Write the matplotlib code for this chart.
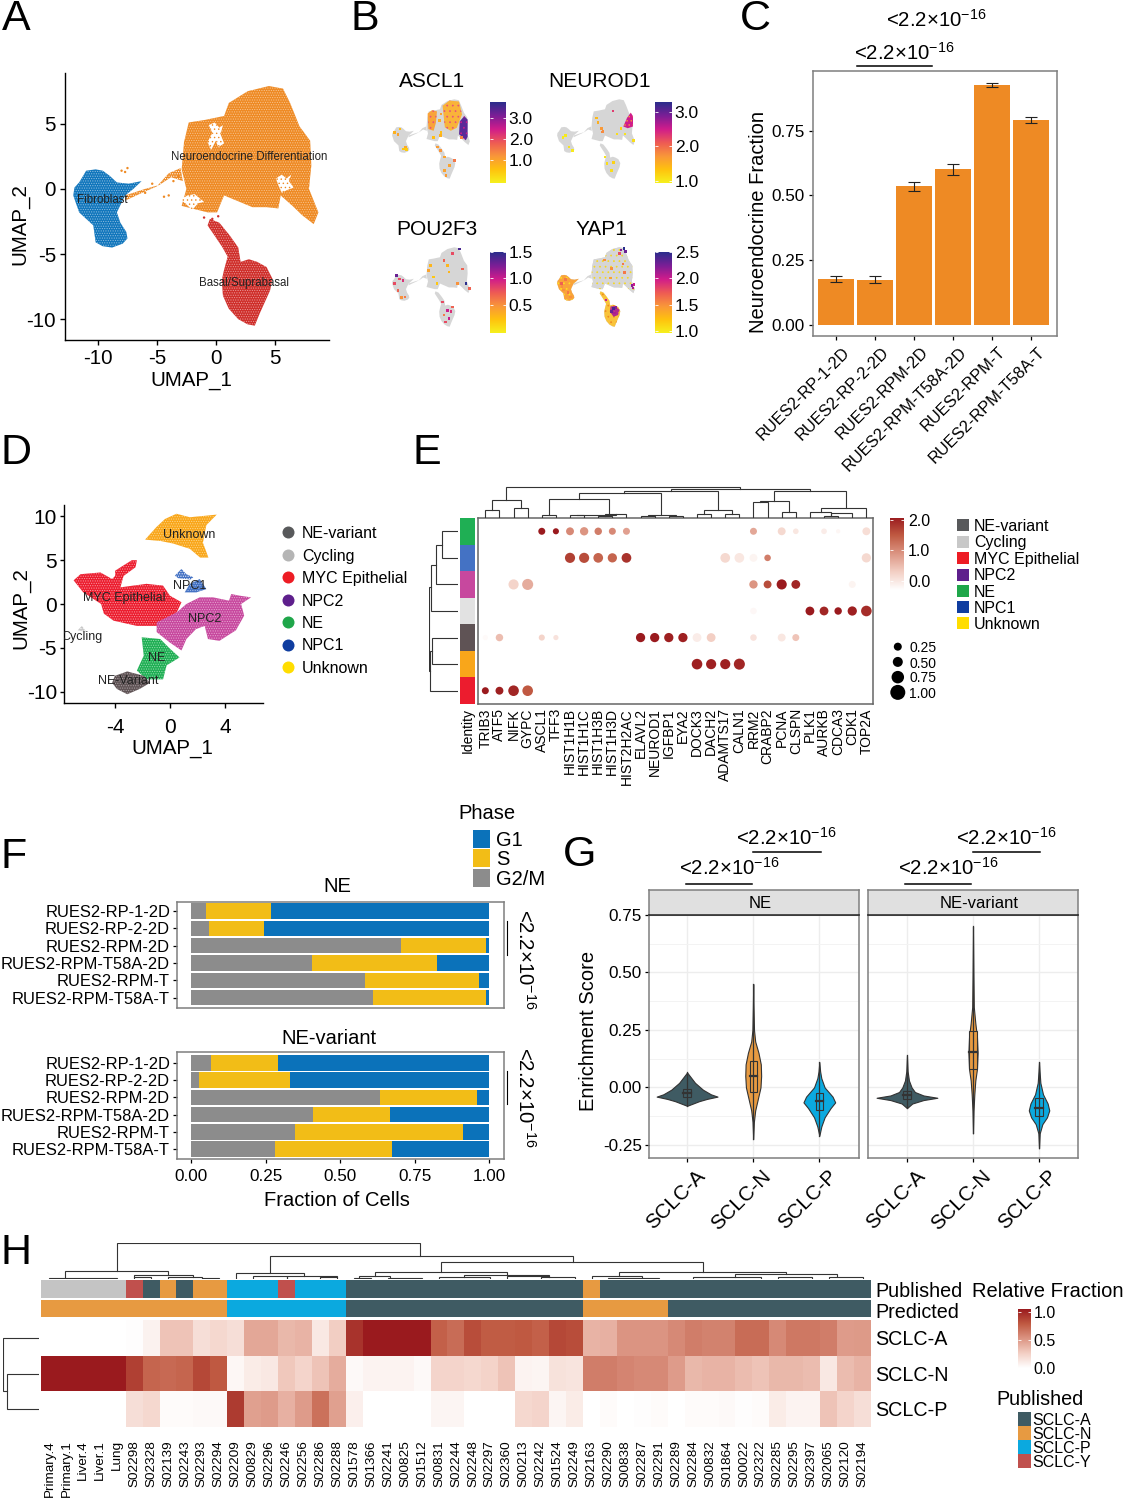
import numpy as np
import matplotlib
matplotlib.use("Agg")
import matplotlib.pyplot as plt
from matplotlib.colors import LinearSegmentedColormap, ListedColormap
from matplotlib.patches import Rectangle
from matplotlib.transforms import ScaledTranslation

plt.rcParams['font.family'] = ['Liberation Sans', 'DejaVu Sans']
plt.rcParams['mathtext.fontset'] = 'custom'
plt.rcParams['mathtext.rm'] = 'Liberation Sans'
plt.rcParams['mathtext.default'] = 'regular'
plt.rcParams['axes.unicode_minus'] = False
plt.rcParams['hatch.linewidth'] = 0.5

W, H = 1123, 1500
PVAL = "<2.2×10$^{-16}$"

# --- panel A / B clusters, outlines in UMAP units
ORANGE_X = [4.5, 5.7, 6.3, 7.1, 8.0, 8.1, 7.9, 8.7, 8.3, 7.3, 6.5, 5.5, 5.3, 4.3, 3.1, 1.5, 0.7, 0.1, -0.7, -2.9,
            -2.5, -2.9, -2.7, -2.3, -0.9, 0.7, 1.1, 2.7]
ORANGE_Y = [7.9, 7.7, 6.6, 4.8, 3.7, 1.8, 0.0, -1.8, -2.7, -2.0, -1.3, -0.5, -1.5, -1.4, -1.4, -0.8, -0.5, -1.8, -1.8,
            -1.3, 0.0, 1.5, 3.6, 5.1, 5.3, 5.6, 6.6, 7.5]
BRIDGE_X = [-3.0, -4.0, -5.0, -6.5, -7.7, -7.7, -6.0, -4.8, -3.8, -2.8]
BRIDGE_Y = [1.6, 1.2, 0.2, -0.4, -0.9, -0.5, 0.0, 0.3, 0.9, 0.6]
BLUE_X = [-11.0, -10.2, -9.6, -9.0, -8.4, -7.4, -6.3, -7.0, -7.7, -8.4, -8.1, -7.6, -7.5, -7.9, -8.8, -9.6, -10.2,
          -10.4, -11.0, -11.6, -12.1, -12.0, -11.6]
BLUE_Y = [1.4, 1.5, 1.4, 1.0, 0.5, 0.4, 0.6, 0.0, -0.5, -1.8, -2.6, -3.3, -3.8, -4.2, -4.5, -4.4, -4.1, -2.8, -2.3,
          -1.8, -0.5, 0.1, 0.5]
RED_X = [-0.5, 0.3, 1.2, 1.9, 2.1, 2.8, 3.5, 4.3, 4.8, 4.6, 4.2, 3.7, 3.3, 2.7, 1.9, 1.1, 0.6, 0.5, 0.7, 1.0, 0.5, -0.7]
RED_Y = [-2.3, -2.6, -3.6, -4.5, -5.6, -5.4, -5.6, -6.0, -6.9, -7.8, -8.6, -9.6, -10.5, -10.4, -10.0, -9.2, -8.2,
         -7.0, -6.2, -5.2, -4.4, -2.8]
HOLE1_X = [-0.6, -0.1, 0.3, 0.6, 0.4, 0.7, 0.2, 0.0, -0.4, -0.7, -0.3]
HOLE1_Y = [4.9, 5.1, 4.7, 4.9, 4.2, 3.5, 3.2, 3.7, 3.0, 3.6, 4.3]
HOLE2_X = [5.1, 5.6, 6.0, 6.4, 6.2, 6.6, 6.0, 5.6, 5.3]
HOLE2_Y = [0.8, 1.1, 0.8, 1.1, 0.6, 0.1, -0.1, -0.3, 0.3]
HOLE3_X = [-3.0, -2.4, -1.8, -1.0, -1.5, -2.0]
HOLE3_Y = [-0.8, -0.5, -0.4, -1.0, -1.1, -1.6]
STRAY_X = [-8.0, -7.7, -7.5, -6.0, -5.4, -4.4, -4.0, -3.6, -3.2, -1.0, -0.3, 0.2]
STRAY_Y = [1.4, 1.3, 1.6, -0.3, 0.4, -0.6, -0.5, 0.6, 1.0, -2.2, -2.3, -2.1]
STRAY_COLOR = ['#EE8A24'] * 3 + ['#EE8A24'] * 6 + ['#D0312D'] * 3

# --- panel B
COLORBAR_LIMS = {'ASCL1': (-0.1, 3.76), 'NEUROD1': (0.94, 3.29), 'POU2F3': (-0.03, 1.5), 'YAP1': (0.96, 2.5)}
COLORBAR_TICKS = {'ASCL1': [1.0, 2.0, 3.0], 'NEUROD1': [1.0, 2.0, 3.0], 'POU2F3': [0.5, 1.0, 1.5],
                  'YAP1': [1.0, 1.5, 2.0, 2.5]}
ASCL1_X = [-11.4, -10.0, -9.1, -8.2, -8.6, -10.5, 0.9, 1.85, 4.6, 3.2, 1.85, 2.3, 0.0, 0.9, 6.4, 1.0, -1.0, 0.6, 1.0]
ASCL1_Y = [0.2, 1.0, -3.6, -3.8, -3.2, -0.2, -4.0, -5.5, -6.3, -7.4, -8.6, -9.7, -3.2, -0.5, -1.0, 0.2, -0.9, 3.0, 4.5]
ASCL1_V = [0.8, 0.6, 0.5, 0.4, 0.9, 1.0, 1.2, 1.0, 1.5, 1.0, 1.0, 1.1, 1.1, 0.8, 1.4, 0.6, 0.6, 0.8, 1.0]
NEUROD1_X = [0.2, -0.3, -1.2, -1.6, -9.8, -8.9, -8.0, 0.67, 3.0, 2.5, 3.9, 6.1, 8.4, 2.9, 5.0, 0.0, -10.5, 1.2]
NEUROD1_Y = [0.6, 1.2, 2.5, 3.6, -0.5, -3.2, -4.0, -5.5, -6.7, -8.6, -0.15, -0.15, -1.7, 5.2, 1.2, 0.3, -0.9, -7.0]
NEUROD1_V = [1.8, 1.7, 1.5, 1.4, 1.0, 1.05, 1.0, 1.05, 1.2, 1.1, 1.1, 1.05, 1.1, 2.3, 1.2, 1.8, 1.0, 1.1]
POU2F3_X = [-11.0, -10.1, -9.2, -10.5, -8.7, -9.6, -11.5, -1.9, -2.3, -0.1, 1.8, 4.0, 5.9, 2.7, 6.8, 5.4, 7.7, 8.6,
            3.1, -1.0, 1.3, 2.7, 3.6, 1.8, 3.1, 2.2, 4.0]
POU2F3_Y = [1.4, 0.6, 0.2, -2.1, -3.6, -3.8, -0.5, 3.7, 2.5, -0.5, 4.8, 6.4, 7.5, 3.7, 2.9, -0.5, -0.5, -1.7, 2.15,
            1.0, -4.8, -6.7, -7.0, -7.8, -8.6, -9.4, -5.9]
POU2F3_V = [1.3, 0.8, 0.9, 0.7, 0.6, 0.5, 0.8, 0.3, 0.4, 0.2, 0.7, 0.8, 1.4, 0.3, 0.7, 0.5, 1.5, 0.7, 0.3, 0.2, 0.8,
            1.0, 0.9, 0.6, 1.0, 0.8, 0.7]
YAP1_X = [5.8, 5.0, 6.2, 4.6, 7.9, 8.2, 8.5, 3.0, 3.7, 2.5, 3.3, 1.0, 2.5, 6.0, 0.6, -9.8, -11.0, -10.8, -9.2,
          -10.4, -8.5, 5.5, 2.2]
YAP1_Y = [7.6, 7.3, 6.9, 6.5, -1.0, -1.5, -0.7, -6.3, -6.0, -7.0, -7.3, -4.3, 3.0, 2.0, 5.0, 0.5, -0.5, -1.2, -2.6,
          -2.0, -3.6, 4.0, 0.8]
YAP1_V = [2.5, 2.2, 2.3, 1.8, 2.2, 2.1, 2.0, 2.4, 2.2, 2.3, 2.1, 2.0, 1.5, 1.6, 1.5, 1.6, 1.7, 1.5, 1.6, 1.5, 1.5,
          1.6, 1.4]
ASCL1_LEFT_X = [-2.6, -1.4, -0.1, -0.4, -1.0, -2.4]
ASCL1_LEFT_Y = [4.6, 5.4, 5.1, 2.4, 0.6, 1.0]
ASCL1_MID_X = [1.4, 3.2, 5.8, 6.6, 5.2, 3.6, 2.0]
ASCL1_MID_Y = [6.4, 7.6, 7.4, 4.4, 1.3, 0.6, 1.4]
ASCL1_HOT_X = [6.0, 7.2, 8.1, 8.1, 7.6, 5.8]
ASCL1_HOT_Y = [2.8, 4.0, 3.2, -0.8, -1.6, -0.2]
NEUROD1_HOT_X = [6.6, 7.6, 8.2, 8.2, 6.8, 5.6]
NEUROD1_HOT_Y = [3.6, 4.8, 4.0, 1.6, 1.2, 1.6]
YAP1_HOT_X = [2.2, 3.5, 4.6, 4.2, 3.0, 2.0]
YAP1_HOT_Y = [-5.8, -5.7, -6.6, -7.8, -8.2, -7.0]

# --- panel C
LINES = ['RUES2-RP-1-2D', 'RUES2-RP-2-2D', 'RUES2-RPM-2D', 'RUES2-RPM-T58A-2D', 'RUES2-RPM-T', 'RUES2-RPM-T58A-T']
NE_FRACTION = [0.178, 0.175, 0.535, 0.60, 0.925, 0.79]
NE_ERR = [0.012, 0.012, 0.018, 0.022, 0.008, 0.011]

# --- panel D clusters
UNKNOWN_X = [-1.8, -1.0, -0.36, 0.48, 1.45, 3.4, 2.65, 2.4, 2.8, 2.2, 1.45, 0.24, -0.7]
UNKNOWN_Y = [7.35, 8.75, 9.7, 10.3, 9.9, 10.2, 9.0, 7.0, 5.3, 5.3, 6.3, 6.9, 7.2]
MYC_X = [-7.0, -6.5, -5.05, -4.2, -3.98, -3.98, -2.77, -2.4, -2.5, -3.37, -3.6, -1.7, -0.5, 0.0, 0.84, 0.5, -0.96,
         -2.4, -4.1, -4.8, -5.0, -6.3]
MYC_Y = [2.7, 3.4, 3.6, 2.85, 3.2, 3.8, 5.0, 5.0, 4.2, 3.2, 1.9, 2.3, 2.1, 0.95, 0.2, -0.95, -2.5, -2.5, -1.9, -1.1,
         0.0, 1.33]
NPC2_X = [-0.96, 0.5, 1.2, 2.17, 3.13, 4.3, 4.46, 5.06, 5.9, 5.18, 5.4, 4.8, 3.6, 2.77, 2.53, 1.9, 1.2, 0.84, 0.0,
          -0.96]
NPC2_Y = [-2.1, -0.95, 0.0, 0.76, 0.76, 0.38, 1.14, 0.95, 0.76, 0.0, -1.33, -3.0, -4.2, -4.0, -2.5, -2.86, -4.0, -5.3,
          -4.4, -3.2]
NE_X = [-2.05, -0.7, 0.0, 0.7, -0.24, -0.5, -1.7, -2.4, -1.9]
NE_Y = [-3.8, -4.0, -5.1, -6.1, -7.0, -8.6, -8.6, -7.6, -5.9]
NEV_X = [-4.0, -3.1, -1.9, -1.45, -2.2, -3.1, -3.85, -4.2]
NEV_Y = [-8.2, -7.7, -8.2, -9.0, -9.7, -10.3, -9.7, -9.0]
NPC1A_X = [1.08, 1.45, 2.17, 2.65, 1.93]
NPC1A_Y = [1.33, 2.3, 2.85, 1.7, 1.33]
NPC1B_X = [0.36, 0.84, 1.2, 1.7, 1.5, 0.6]
NPC1B_Y = [3.24, 4.0, 3.4, 3.05, 2.8, 2.95]
CYCLING_X = [-6.7, -6.4, -6.07]
CYCLING_Y = [-3.0, -2.5, -3.2]
D_LEGEND = ['NE-variant', 'Cycling', 'MYC Epithelial', 'NPC2', 'NE', 'NPC1', 'Unknown']
D_COLORS = ['#58595B', '#B5B5B5', '#ED1C24', '#5E1F8C', '#1FA64A', '#0F3DA0', '#FFDD00']
E_LEGEND_COLORS = ['#58595B', '#C8C8C8', '#ED1C24', '#5E1F8C', '#1FA64A', '#0F3DA0', '#FFDD00']

# --- panel E
GENES = ['TRIB3', 'ATF5', 'NIFK', 'GYPC', 'ASCL1', 'TFF3', 'HIST1H1B', 'HIST1H1C', 'HIST1H3B', 'HIST1H3D',
         'HIST2H2AC', 'ELAVL2', 'NEUROD1', 'IGFBP1', 'EYA2', 'DOCK3', 'DACH2', 'ADAMTS17', 'CALN1', 'RRM2', 'CRABP2',
         'PCNA', 'CLSPN', 'PLK1', 'AURKB', 'CDCA3', 'CDK1', 'TOP2A']
IDENTITY_COLORS = ['#1FAF54', '#4472C4', '#C7489E', '#E2E2E2', '#5F5355', '#F9A61A', '#EC1C2E']
DOT_ROW = [0] * 13 + [1] * 10 + [2] * 7 + [3] * 6 + [4] * 13 + [5] * 4 + [6] * 4
DOT_GENE = [4, 5, 6, 7, 8, 9, 10, 19, 21, 22, 24, 25, 27,
            6, 7, 8, 9, 10, 17, 18, 19, 20, 27,
            2, 3, 19, 20, 21, 22, 26,
            19, 23, 24, 25, 26, 27,
            0, 1, 4, 5, 11, 12, 13, 14, 15, 16, 19, 21, 22,
            15, 16, 17, 18,
            0, 1, 2, 3]
DOT_SIZE = [0.5, 0.4, 0.6, 0.65, 0.55, 0.5, 0.5, 0.5, 0.6, 0.35, 0.35, 0.2, 0.6,
            0.85, 0.85, 0.8, 0.75, 0.8, 0.8, 0.8, 0.6, 0.45, 0.75,
            0.85, 0.95, 0.65, 0.6, 0.85, 0.7, 0.5,
            0.45, 0.7, 0.7, 0.55, 0.75, 0.9,
            0.3, 0.55, 0.4, 0.3, 0.75, 0.75, 0.75, 0.75, 0.7, 0.7, 0.45, 0.6, 0.5,
            0.9, 0.85, 0.85, 0.95,
            0.5, 0.6, 0.9, 0.9]
DOT_VALUE = [2.0, 2.0, 1.1, 1.0, 1.2, 1.1, 0.9, 0.85, 0.4, 0.25, 0.2, 0.1, 0.35,
             1.7, 1.6, 1.4, 1.4, 1.8, 0.4, 0.25, 0.12, 1.2, 0.4,
             0.45, 0.8, 1.0, 1.6, 2.0, 1.9, 0.12,
             0.08, 2.0, 1.9, 2.0, 1.95, 1.85,
             0.05, 0.65, 0.45, 0.3, 2.0, 2.0, 1.95, 1.95, 0.2, 0.5, 0.3, 0.25, 0.6,
             1.95, 1.95, 1.95, 1.9,
             2.0, 1.95, 1.9, 1.5]
# xl, xr, height left, height right, height top
GENE_TREE = [(0, 1, 0, 0, 23), (2, 3, 0, 0, 27), (0.5, 2.5, 23, 27, 52), (1.49, 18.07, 52, 85, 92),
             (4, 5, 0, 0, 8), (6, 7, 0, 0, 6), (8, 9, 0, 0, 5), (8.5, 10, 5, 0, 10), (6.5, 9.25, 6, 10, 8),
             (4.49, 8.74, 8, 8, 54), (11, 12, 0, 0, 3), (13, 14, 0, 0, 4), (11.5, 13.5, 3, 4, 6),
             (6.61, 12.47, 54, 6, 72), (15, 16, 0, 0, 10), (17, 18, 0, 0, 10), (15.47, 17.48, 10, 10, 23),
             (9.85, 16.49, 72, 23, 79), (13.18, 22.99, 79, 79, 85), (19, 20, 0, 0, 45), (21, 22, 0, 0, 17),
             (19.49, 21.5, 45, 17, 50), (23, 24.5, 0, 7, 17), (24, 25, 0, 0, 4), (24.5, 26, 4, 0, 14),
             (23.75, 27, 17, 0, 27), (20.48, 25.56, 50, 27, 79)]
ROW_TREE = [(0, 1, 0, 0, 50), (0.5, 2, 50, 0, 67), (1.25, 3, 67, 0, 83), (4, 5, 0, 0, 78), (4.5, 6, 78, 0, 85),
            (2.1, 5.25, 83, 85, 88)]
E_LEGEND = D_LEGEND
SIZE_LEGEND = [0.25, 0.50, 0.75, 1.00]

# --- panel F
PHASES = ['G1', 'S', 'G2/M']
PHASE_COLORS = ['#0B72BA', '#F2BD17', '#8C8C8C']
NE_G2M = [0.05, 0.06, 0.703, 0.405, 0.585, 0.61]
NE_S = [0.22, 0.185, 0.287, 0.42, 0.38, 0.38]
NE_G1 = [0.73, 0.755, 0.01, 0.175, 0.035, 0.01]
NEV_G2M = [0.067, 0.027, 0.635, 0.41, 0.35, 0.283]
NEV_S = [0.226, 0.305, 0.325, 0.257, 0.562, 0.392]
NEV_G1 = [0.707, 0.668, 0.04, 0.333, 0.088, 0.325]

# --- panel G, violin outlines: score, half width
SUBTYPES = ['SCLC-A', 'SCLC-N', 'SCLC-P']
SUBTYPE_COLORS = ['#3F5B63', '#E79A41', '#0BA9DF']
NE_A_Y = [-0.08, -0.06, -0.05, -0.04, -0.03, -0.01, 0.02, 0.05, 0.065]
NE_A_W = [0.0, 0.18, 0.3, 0.46, 0.36, 0.24, 0.12, 0.04, 0.0]
NE_N_Y = [-0.225, -0.15, -0.1, -0.05, 0.0, 0.05, 0.1, 0.15, 0.2, 0.25, 0.35, 0.45]
NE_N_W = [0.0, 0.01, 0.03, 0.07, 0.11, 0.12, 0.115, 0.08, 0.03, 0.012, 0.005, 0.0]
NE_P_Y = [-0.21, -0.17, -0.13, -0.09, -0.065, -0.04, 0.0, 0.04, 0.07, 0.11]
NE_P_W = [0.0, 0.03, 0.08, 0.17, 0.24, 0.2, 0.08, 0.03, 0.012, 0.0]
NEV_A_Y = [-0.09, -0.07, -0.055, -0.045, -0.035, -0.02, 0.0, 0.03, 0.07, 0.14]
NEV_A_W = [0.0, 0.08, 0.25, 0.46, 0.25, 0.12, 0.07, 0.03, 0.01, 0.0]
NEV_N_Y = [-0.2, -0.1, -0.03, 0.03, 0.08, 0.15, 0.22, 0.28, 0.35, 0.5, 0.7]
NEV_N_W = [0.0, 0.008, 0.02, 0.035, 0.06, 0.07, 0.06, 0.035, 0.012, 0.006, 0.0]
NEV_P_Y = [-0.265, -0.2, -0.16, -0.13, -0.1, -0.07, -0.03, 0.02, 0.07, 0.11]
NEV_P_W = [0.0, 0.01, 0.05, 0.12, 0.155, 0.13, 0.06, 0.02, 0.008, 0.0]
NE_Q1 = [-0.04, -0.02, -0.097]
NE_MED = [-0.025, 0.05, -0.06]
NE_Q3 = [-0.005, 0.115, -0.025]
NEV_Q1 = [-0.05, 0.08, -0.125]
NEV_MED = [-0.035, 0.155, -0.09]
NEV_Q3 = [-0.015, 0.245, -0.045]

# --- panel H
SAMPLES = ['Primary.4', 'Primary.1', 'Liver.4', 'Liver.1', 'Lung', 'S02298', 'S02328', 'S02139', 'S02243', 'S02293',
           'S02294', 'S02209', 'S00829', 'S02296', 'S02246', 'S02256', 'S02286', 'S02288', 'S01578', 'S01366',
           'S02241', 'S00825', 'S01512', 'S00831', 'S02244', 'S02248', 'S02297', 'S02360', 'S00213', 'S02242',
           'S01524', 'S02249', 'S02163', 'S02290', 'S00838', 'S02287', 'S02291', 'S02289', 'S02284', 'S00832',
           'S01864', 'S00022', 'S02322', 'S02285', 'S02295', 'S02397', 'S02065', 'S02120', 'S02194']
SCLC_A = [0, 0, 0, 0, 0, 0.01, 0.07, 0.3, 0.3, 0.17, 0.2, 0.17, 0.42, 0.42, 0.35, 0.37, 0.12, 0.25, 0.9, 1, 1, 1, 1,
          0.72, 0.67, 0.8, 0.74, 0.74, 0.75, 0.72, 0.82, 0.8, 0.37, 0.38, 0.5, 0.5, 0.5, 0.55, 0.6, 0.58, 0.58, 0.67,
          0.67, 0.55, 0.62, 0.62, 0.6, 0.47, 0.48]
SCLC_N = [1, 1, 1, 1, 1, 0.85, 0.7, 0.68, 0.7, 0.82, 0.75, 0.04, 0.1, 0.12, 0.28, 0.22, 0.3, 0.4, 0.03, 0.06, 0.06,
          0.06, 0.03, 0.22, 0.22, 0.2, 0.23, 0.3, 0.06, 0.05, 0.15, 0.14, 0.6, 0.6, 0.57, 0.55, 0.55, 0.47, 0.35,
          0.37, 0.37, 0.33, 0.3, 0.35, 0.35, 0.33, 0.12, 0.33, 0.37]
SCLC_P = [0, 0, 0, 0, 0, 0.17, 0.2, 0.02, 0.02, 0.03, 0.03, 0.87, 0.45, 0.47, 0.38, 0.47, 0.65, 0.45, 0.08, 0, 0, 0,
          0, 0.05, 0.05, 0, 0, 0, 0.2, 0.22, 0.05, 0.1, 0, 0.02, 0, 0.01, 0.02, 0, 0.02, 0.02, 0.03, 0.01, 0.02, 0.1,
          0.06, 0.06, 0.3, 0.22, 0.17]
HEAT_ROWS = ['SCLC-A', 'SCLC-N', 'SCLC-P']
# 0 = none, 1 A, 2 N, 3 P, 4 Y
PUBLISHED = [0] * 5 + [4, 1, 2, 1, 2, 2] + [3, 3, 3, 4, 3, 3, 3] + [1] * 14 + [2] + [1] * 16
PREDICTED = [2] * 11 + [3] * 7 + [1] * 14 + [2] * 5 + [1] * 12
ANNOT_COLORS = ['#C4C4C4', '#3F5B63', '#E79A41', '#0BA9DF', '#C0504D']
H_LEGEND = ['SCLC-A', 'SCLC-N', 'SCLC-P', 'SCLC-Y']
SAMPLE_TREE = [(3.96, 21.9, 25, 70, 107), (0.91, 6.97, 2, 12, 25), (0, 1.82, 0, 0, 2), (1.82, 4, 0, 0, 2),
               (5, 8.5, 5, 6, 12), (5, 6, 0, 0, 5), (7, 9, 3, 4, 6), (9, 10, 0, 0, 3),
               (13, 30.9, 19, 52, 70), (11, 15, 0, 8, 19), (12, 14, 0, 3, 8), (14, 17, 0, 5, 8), (16, 17, 0, 0, 5),
               (23.1, 38.6, 20, 22, 52), (19.2, 27, 8, 13, 20), (18.3, 20.1, 2, 3, 8), (18, 19, 0, 0, 2),
               (20, 22, 0, 0, 3), (24.5, 29.5, 5, 8, 13), (23, 26, 0, 3, 5), (27, 29.5, 2, 6, 8), (29, 31, 0, 3, 6),
               (33.6, 43.5, 8, 15, 22), (32, 35, 2, 3, 8), (33, 36, 0, 0, 3), (40.5, 46.5, 6, 10, 15),
               (38, 42, 0, 3, 6), (43, 45, 0, 2, 5), (46, 48, 2, 3, 6)]
SAMPLE_ROW_TREE = [(1, 2, 0, 0, 88), (0, 1.5, 0, 88, 100)]

# --- colormaps
gene_cmap = LinearSegmentedColormap.from_list('gene', ['#F6F01E', '#FFC20E', '#F9963A', '#EE5A55', '#D01C8B', '#7B1E96',
                                                        '#2B2D8C'])
red_cmap = LinearSegmentedColormap.from_list('heat', ['#FFFFFF', '#F3CFC4', '#DC9583', '#C05A42', '#9A1A1E'])

fig = plt.figure(figsize=(W / 100, H / 100), dpi=100, facecolor='white')


def add_ax(x0, y0, x1, y1, **kw):
    # axes from pixel box, y measured from the top of the image
    return fig.add_axes([x0 / W, 1 - y1 / H, (x1 - x0) / W, (y1 - y0) / H], **kw)


def classic(ax, labelsize=14.5):
    ax.spines[['top', 'right']].set_visible(False)
    ax.spines[['left', 'bottom']].set_linewidth(1.0)
    ax.tick_params(labelsize=labelsize, length=3.5, width=1.0, pad=3)


def grey_box(ax, color='#7F7F7F', lw=1.1):
    for s in ax.spines.values():
        s.set_color(color)
        s.set_linewidth(lw)


def place_labels(ax, box, xpos=None, ypos=None):
    # axis label centres, given in image pixels
    x0, y0, x1, y1 = box
    if xpos:
        ax.xaxis.set_label_coords((xpos[0] - x0) / (x1 - x0), (y1 - xpos[1]) / (y1 - y0))
        ax.xaxis.label.set_va('center')
    if ypos:
        ax.yaxis.set_label_coords((ypos[0] - x0) / (x1 - x0), (y1 - ypos[1]) / (y1 - y0))
        ax.yaxis.label.set_va('center')


def shift_xlabels(ax, px):
    offset = ScaledTranslation(px / 100, 0, fig.dpi_scale_trans)
    for lab in ax.get_xticklabels():
        lab.set_transform(lab.get_transform() + offset)


def draw_tree(ax, links, side='top', color='#333333', lw=0.8):
    for xl, xr, hl, hr, h in links:
        xs, ys = [xl, xl, xr, xr], [hl, h, h, hr]
        if side == 'top':
            ax.plot(xs, ys, color=color, lw=lw, solid_joinstyle='miter')
        else:
            ax.plot(ys, xs, color=color, lw=lw, solid_joinstyle='miter')


def gradient_bar(box, cmap, vmin, vmax, ticks, labels, size=12.5, pad=2):
    ax = add_ax(*box)
    grad = np.linspace(vmin, vmax, 256)[:, None]
    ax.imshow(grad, origin='lower', aspect='auto', cmap=cmap, extent=[0, 1, vmin, vmax], vmin=vmin, vmax=vmax)
    ax.hlines(ticks, 0, 0.2, color='white', lw=0.6)
    ax.hlines(ticks, 0.8, 1, color='white', lw=0.6)
    ax.set_xticks([])
    ax.yaxis.tick_right()
    ax.set_yticks(ticks, labels)
    ax.tick_params(length=0, labelsize=size, pad=pad)
    ax.spines[:].set_visible(False)
    return ax


# panel A
box_a = (65, 73, 329, 340)
ax = add_ax(*box_a)
ax.fill(ORANGE_X, ORANGE_Y, fc='#EE8A24', ec='#F8C48E', hatch='.......', lw=0)
ax.fill(BRIDGE_X, BRIDGE_Y, fc='#EE8A24', ec='white', hatch='.......', lw=0)
ax.fill(BLUE_X, BLUE_Y, fc='#1176BC', ec='#8DBDE0', hatch='.......', lw=0)
ax.fill(RED_X, RED_Y, fc='#CF2E2A', ec='#E99A98', hatch='.......', lw=0)
for hx, hy in [(HOLE1_X, HOLE1_Y), (HOLE2_X, HOLE2_Y), (HOLE3_X, HOLE3_Y)]:
    ax.fill(hx, hy, fc='white', ec='#EE8A24', hatch='....', lw=0)
ax.scatter(STRAY_X, STRAY_Y, s=3, c=STRAY_COLOR, lw=0)
ax.set_xlim(-12.8, 9.6)
ax.set_ylim(-11.6, 8.9)
ax.set_xticks([-10, -5, 0, 5])
ax.set_yticks([-10, -5, 0, 5])
classic(ax, 14.8)
ax.set_xlabel('UMAP_1', fontsize=14.8)
ax.set_ylabel('UMAP_2', fontsize=14.8)
place_labels(ax, box_a, (191, 381), (20, 224))
ax.text(2.8, 2.45, 'Neuroendocrine Differentiation', fontsize=8.3, ha='center', va='center', color='#222222')
ax.text(-9.6, -0.85, 'Fibroblast', fontsize=8.3, ha='center', va='center', color='#222222')
ax.text(2.4, -7.25, 'Basal/Suprabasal', fontsize=8.3, ha='center', va='center', color='#222222')


# panel B
def mini_map(box, title, px, py, pv, gene, title_x, patches=()):
    ax = add_ax(*box)
    for xs, ys in [(ORANGE_X, ORANGE_Y), (BRIDGE_X, BRIDGE_Y), (BLUE_X, BLUE_Y), (RED_X, RED_Y)]:
        ax.fill(xs, ys, fc='#D6D6D6', lw=0)
    for xs, ys, fc, ec, hatch in patches:
        ax.fill(xs, ys, fc=fc, ec=ec, hatch=hatch, lw=0)
    vmin, vmax = COLORBAR_LIMS[gene]
    ax.scatter(px, py, c=pv, s=3.5, marker='s', cmap=gene_cmap, vmin=vmin, vmax=vmax, lw=0)
    ax.set_xlim(-12.4, 9)
    ax.set_ylim(-10.8, 8.2)
    ax.axis('off')
    fig.text(title_x / W, 1 - box[1] / H + 16.5 / H, title, fontsize=15, ha='center', va='center')


mini_map((391, 98, 471, 180), 'ASCL1', ASCL1_X, ASCL1_Y, ASCL1_V, 'ASCL1', 432,
         [(ASCL1_LEFT_X, ASCL1_LEFT_Y, '#F9A33A', '#E8507A', '...'), (ASCL1_MID_X, ASCL1_MID_Y, '#F9B33A', '#E8507A', '...'),
          (ASCL1_HOT_X, ASCL1_HOT_Y, '#5A2A98', '#D01C8B', '...')])
mini_map((556, 98, 636, 180), 'NEUROD1', NEUROD1_X, NEUROD1_Y, NEUROD1_V, 'NEUROD1', 600,
         [(NEUROD1_HOT_X, NEUROD1_HOT_Y, '#D01C8B', '#F9963A', '....')])
mini_map((391, 246, 471, 328), 'POU2F3', POU2F3_X, POU2F3_Y, POU2F3_V, 'POU2F3', 437)
mini_map((556, 246, 636, 328), 'YAP1', YAP1_X, YAP1_Y, YAP1_V, 'YAP1', 601,
         [(ORANGE_X, ORANGE_Y, '#D6D6D6', '#F6D81E', '...'), (BLUE_X, BLUE_Y, '#F9A33A', '#FFE020', '...'),
          (RED_X, RED_Y, '#F9C33A', '#EE8A24', '...'), (YAP1_HOT_X, YAP1_HOT_Y, '#B0288E', '#F9963A', '....')])
gradient_bar((490, 102, 506, 183), gene_cmap, *COLORBAR_LIMS['ASCL1'], COLORBAR_TICKS['ASCL1'], ['1.0', '2.0', '3.0'])
gradient_bar((655, 102, 672, 183), gene_cmap, *COLORBAR_LIMS['NEUROD1'], COLORBAR_TICKS['NEUROD1'],
             ['1.0', '2.0', '3.0'])
gradient_bar((490, 252, 506, 333), gene_cmap, *COLORBAR_LIMS['POU2F3'], COLORBAR_TICKS['POU2F3'], ['0.5', '1.0', '1.5'])
gradient_bar((655, 252, 672, 333), gene_cmap, *COLORBAR_LIMS['YAP1'], COLORBAR_TICKS['YAP1'],
             ['1.0', '1.5', '2.0', '2.5'])

# panel C
box_c = (813, 71, 1057, 336)
ax = add_ax(*box_c)
x = np.arange(len(LINES))
ax.bar(x, NE_FRACTION, width=0.92, color='#EE8A24')
ax.errorbar(x, NE_FRACTION, yerr=NE_ERR, fmt='none', ecolor='#222222', elinewidth=0.8, capsize=4, capthick=0.8)
ax.set_xlim(-0.59, 5.67)
ax.set_ylim(-0.043, 0.98)
ax.set_yticks([0, 0.25, 0.5, 0.75], ['0.00', '0.25', '0.50', '0.75'])
ax.set_xticks(x, LINES, rotation=45, ha='right', rotation_mode='anchor')
ax.tick_params(labelsize=11.8, length=3, width=0.9, pad=3)
ax.tick_params(axis='y', labelsize=12.3)
ax.set_ylabel('Neuroendocrine Fraction', fontsize=14.5)
place_labels(ax, box_c, ypos=(759, 222))
shift_xlabels(ax, 6)
grey_box(ax)

# panel D
box_d = (64, 505, 263, 703)
ax = add_ax(*box_d)
for xs, ys, c, dot in [(UNKNOWN_X, UNKNOWN_Y, '#F9A61A', '#FDD68A'), (MYC_X, MYC_Y, '#EC1C2E', '#F79AA2'),
                       (NPC2_X, NPC2_Y, '#C7489E', '#E6A8D2'), (NE_X, NE_Y, '#1FAF54', '#95DBAE'),
                       (NEV_X, NEV_Y, '#5F5355', '#A8A0A2'), (NPC1A_X, NPC1A_Y, '#4472C4', '#A5BDE6'),
                       (NPC1B_X, NPC1B_Y, '#4472C4', '#FFFFFF'), (CYCLING_X, CYCLING_Y, '#C8C8C8', '#FFFFFF')]:
    ax.fill(xs, ys, fc=c, ec=dot, hatch='.......', lw=0)
ax.set_xlim(-7.7, 6.77)
ax.set_ylim(-11.3, 11.3)
ax.set_xticks([-4, 0, 4])
ax.set_yticks([-10, -5, 0, 5, 10])
classic(ax, 15)
ax.tick_params(axis='x', pad=7)
ax.tick_params(axis='y', length=3, pad=2)
ax.set_xlabel('UMAP_1', fontsize=14.8)
ax.set_ylabel('UMAP_2', fontsize=14.8)
place_labels(ax, box_d, (172, 748), (21, 608))
for label, tx, ty in [('MYC Epithelial', -3.3, 0.7), ('Unknown', 1.37, 7.9), ('NPC1', 1.45, 2.0), ('NPC2', 2.5, -1.7),
                      ('NE', -0.96, -6.2), ('NE-Variant', -3.0, -8.8), ('Cycling', -6.4, -3.8)]:
    ax.text(tx, ty, label, fontsize=9, ha='center', va='center', color='#222222', clip_on=True)

# panel E
ax = add_ax(478, 518, 873, 704)
dot_px = 2.5 + 9 * np.array(DOT_SIZE)
ax.scatter(DOT_GENE, DOT_ROW, s=(dot_px * 0.72) ** 2, c=DOT_VALUE, cmap=red_cmap, vmin=0, vmax=2, lw=0)
ax.set_xlim(-0.52, 27.47)
ax.set_ylim(6.5, -0.5)
ax.set_yticks([])
ax.set_xticks(range(len(GENES)), GENES, rotation=90)
ax.tick_params(length=0, labelsize=10, pad=3)
grey_box(ax, '#666666', 1.1)

ax = add_ax(460, 518, 475, 704)
ax.imshow(np.arange(7)[:, None], aspect='auto', cmap=ListedColormap(IDENTITY_COLORS))
ax.set_yticks([])
ax.set_xticks([0], ['Identity'], rotation=90)
ax.tick_params(length=0, labelsize=10, pad=3)
ax.spines[:].set_visible(False)

ax = add_ax(478, 486, 873, 517.5)
draw_tree(ax, GENE_TREE)
ax.set_xlim(-0.52, 27.47)
ax.set_ylim(0, 94)
ax.axis('off')

ax = add_ax(429, 518, 458, 704)
draw_tree(ax, ROW_TREE, side='left')
ax.set_ylim(6.5, -0.5)
ax.set_xlim(88, 0)
ax.axis('off')

gradient_bar((890, 518, 904, 590), red_cmap, -0.3, 2.05, [0, 1, 2], ['0.0', '1.0', '2.0'], size=11.5, pad=3)

ax = add_ax(886, 636, 945, 700)
ax.scatter([0.2] * 4, [3, 2, 1, 0], s=(np.array([8, 10, 12.5, 15]) * 0.72) ** 2, c='black', lw=0)
ax.set_xlim(0, 1)
ax.set_ylim(-0.5, 3.7)
ax.axis('off')


# panel F
def phase_panel(box, g2m, s, g1, top, step, show_x):
    ax = add_ax(*box)
    y = np.arange(len(LINES))
    g2m, s, g1 = map(np.array, (g2m, s, g1))
    ax.barh(y, g2m, height=0.9, color=PHASE_COLORS[2])
    ax.barh(y, s, left=g2m, height=0.9, color=PHASE_COLORS[1])
    ax.barh(y, g1, left=g2m + s, height=0.9, color=PHASE_COLORS[0])
    ax.set_xlim(-0.047, 1.05)
    ax.set_ylim((box[3] - top) / step, (box[1] - top) / step)
    ax.set_yticks(y, LINES)
    ax.tick_params(axis='y', labelsize=11.9, length=3, width=0.9, pad=2)
    ax.set_xticks([0, 0.25, 0.5, 0.75, 1], ['0.00', '0.25', '0.50', '0.75', '1.00'] if show_x else [''] * 5)
    ax.tick_params(axis='x', labelsize=12.3, length=3 if show_x else 0, width=0.9, pad=4)
    grey_box(ax)
    return ax


phase_panel((177, 902, 504, 1008), NE_G2M, NE_S, NE_G1, 911, 17.33, False)
box_f = (177, 1052, 504, 1159)
ax = phase_panel(box_f, NEV_G2M, NEV_S, NEV_G1, 1063, 17.2, True)
ax.set_xlabel('Fraction of Cells', fontsize=14.5)
place_labels(ax, box_f, (337, 1200))


# panel G
def violin_panel(box, title, outlines, q1, med, q3, xlim):
    ax = add_ax(*box)
    ax.set_facecolor('white')
    ax.set_axisbelow(True)
    ax.set_ylim(-0.307, 0.745)
    ax.set_xlim(*xlim)
    ax.set_yticks([-0.25, 0, 0.25, 0.5, 0.75])
    ax.set_yticks([-0.125, 0.125, 0.375, 0.625], minor=True)
    ax.set_xticks(range(3), SUBTYPES, rotation=45, ha='right', rotation_mode='anchor')
    ax.grid(which='major', color='#EDEDED', lw=1.0)
    ax.grid(which='minor', axis='y', color='#F3F3F3', lw=0.7)
    ax.tick_params(which='minor', length=0)
    for i, (vy, vw) in enumerate(outlines):
        vy, vw = np.array(vy), np.array(vw)
        ax.fill_betweenx(vy, i - vw, i + vw, facecolor=SUBTYPE_COLORS[i], edgecolor='#333333', lw=0.8)
        ax.plot([i, i], [vy[0], vy[-1]], color='#333333', lw=0.9)
        ax.add_patch(Rectangle((i - 0.055, q1[i]), 0.11, q3[i] - q1[i], fc=SUBTYPE_COLORS[i], ec='#333333', lw=0.8))
        ax.plot([i - 0.055, i + 0.055], [med[i]] * 2, color='#333333', lw=1.6)
    ax.tick_params(axis='x', labelsize=14.8, length=3, width=0.9, pad=3)
    ax.tick_params(axis='y', labelsize=12.3, length=3, width=0.9, pad=2)
    shift_xlabels(ax, 8)
    grey_box(ax)
    strip = add_ax(box[0], 890, box[2], box[1], facecolor='#E0E0E0')
    strip.set_xticks([])
    strip.set_yticks([])
    grey_box(strip)
    strip.spines['bottom'].set_color('#222222')
    strip.text(0.53, 0.48, title, transform=strip.transAxes, fontsize=12, ha='center', va='center')
    return ax


box_g = (649, 915, 859, 1158)
ax = violin_panel(box_g, 'NE', [(NE_A_Y, NE_A_W), (NE_N_Y, NE_N_W), (NE_P_Y, NE_P_W)],
                  NE_Q1, NE_MED, NE_Q3, (-0.576, 2.6))
ax.set_ylabel('Enrichment Score', fontsize=14.5)
place_labels(ax, box_g, ypos=(588, 1031))
ax = violin_panel((868, 915, 1078, 1158), 'NE-variant', [(NEV_A_Y, NEV_A_W), (NEV_N_Y, NEV_N_W), (NEV_P_Y, NEV_P_W)],
                  NEV_Q1, NEV_MED, NEV_Q3, (-0.59, 2.59))
ax.set_yticks([-0.25, 0, 0.25, 0.5, 0.75], [''] * 5)
ax.tick_params(axis='y', which='both', length=0)

# panel H
ax = add_ax(41, 1320, 871, 1427)
ax.imshow(np.array([SCLC_A, SCLC_N, SCLC_P]), aspect='auto', cmap=red_cmap, vmin=0, vmax=1, interpolation='nearest')
ax.set_yticks([])
ax.set_xticks(range(len(SAMPLES)), SAMPLES, rotation=90)
ax.tick_params(length=0, labelsize=9.7, pad=9.5)
ax.spines[:].set_visible(False)

annot_cmap = ListedColormap(ANNOT_COLORS)
for row, y0, y1 in [(PUBLISHED, 1280, 1298), (PREDICTED, 1299.5, 1317)]:
    ax = add_ax(41, y0, 871, y1)
    ax.imshow([row], aspect='auto', cmap=annot_cmap, vmin=0, vmax=4, interpolation='nearest')
    ax.axis('off')

ax = add_ax(41, 1243, 871, 1279)
draw_tree(ax, SAMPLE_TREE)
ax.set_xlim(-0.5, 48.5)
ax.set_ylim(0, 108)
ax.axis('off')

ax = add_ax(3, 1320, 39, 1427)
draw_tree(ax, SAMPLE_ROW_TREE, side='left')
ax.set_ylim(2.5, -0.5)
ax.set_xlim(100, 0)
ax.axis('off')

gradient_bar((1018, 1309, 1031, 1368), red_cmap, 0, 1.06, [0.0, 0.5, 1.0], ['0.0', '0.5', '1.0'], size=11.5, pad=2)

# text and keys placed by pixel, on one transparent layer
top = add_ax(0, 0, W, H)
top.set_xlim(0, W)
top.set_ylim(H, 0)
top.axis('off')
top.patch.set_alpha(0)


def put(px, py, s, **kw):
    # va='center' sits a little high for these fonts
    return top.text(px, py + 1.5, s, **kw)


for letter, lx, ly in [('A', 16, 18), ('B', 365, 18), ('C', 755, 18), ('D', 16, 452), ('E', 427, 452), ('F', 14, 855),
                       ('G', 580, 853), ('H', 16, 1251)]:
    top.text(lx, ly + 1.5, letter, fontsize=31, ha='center', va='center')

for yy, label, c in zip([532, 554.5, 577, 599.5, 622, 644.5, 667], D_LEGEND, D_COLORS):
    top.scatter([288], [yy], s=(12 * 0.72) ** 2, c=c, lw=0)
    put(302, yy, label, fontsize=11.5, va='center')
for yy, label, c in zip([525, 541.5, 558, 574.5, 591, 607, 623], E_LEGEND, E_LEGEND_COLORS):
    top.add_patch(Rectangle((957, yy - 6), 12, 12, fc=c, lw=0))
    put(974, yy, label, fontsize=11.5, va='center')
for yy, v in zip([646, 662, 677, 692], SIZE_LEGEND):
    put(909, yy, f'{v:.2f}', fontsize=10, va='center')

# p value labels with brackets
for cx, cy in [(936, 20), (904, 53), (729, 868), (786, 838), (948, 868), (1006, 838)]:
    top.text(cx, cy, PVAL, fontsize=14.7, ha='center', va='center')
for x0, x1, yy in [(857, 932, 66), (686, 752, 884), (753, 821, 852), (905, 971, 884), (973, 1040, 852)]:
    top.plot([x0, x1], [yy, yy], color='black', lw=1.1)
for yy0, yy1, cy in [(921, 955, 959), (1071, 1104, 1097)]:
    top.plot([507, 507], [yy0, yy1], color='black', lw=0.8)
    top.text(525, cy, PVAL, fontsize=14.7, rotation=-90, ha='center', va='center')

# panel titles and phase key
put(337, 885, 'NE', fontsize=14.5, ha='center', va='center')
put(329, 1037, 'NE-variant', fontsize=14.5, ha='center', va='center')
put(487, 812, 'Phase', fontsize=14.5, ha='center', va='center')
for yy, label, c in zip([830, 849, 869], PHASES, PHASE_COLORS):
    top.add_patch(Rectangle((473, yy), 17, 18, fc=c, lw=0))
    put(496, yy + 9, label, fontsize=14.5, va='center')

# heatmap row names and legends
for yy, label in zip([1290, 1311, 1338, 1374, 1409], ['Published', 'Predicted'] + HEAT_ROWS):
    put(875, yy, label, fontsize=14.2, va='center')
put(972, 1290, 'Relative Fraction', fontsize=14.5, va='center')
put(1040, 1398, 'Published', fontsize=14.2, ha='center', va='center')
for yy, label, c in zip([1412, 1426, 1440, 1454], H_LEGEND, ANNOT_COLORS[1:]):
    top.add_patch(Rectangle((1018, yy), 13, 14, fc=c, lw=0))
    put(1032, yy + 7, label, fontsize=11.5, va='center')

fig.savefig('out.png', dpi=100, facecolor='white')
